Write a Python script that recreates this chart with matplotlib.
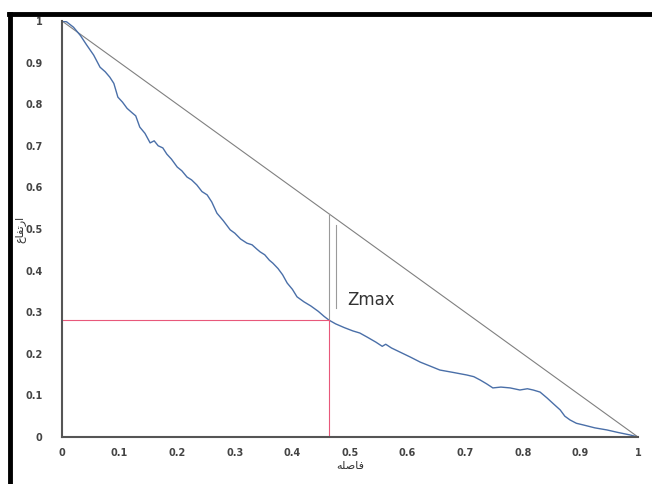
import matplotlib.pyplot as plt
from matplotlib.lines import Line2D

# hypsometric curve
dist = [0, 0.008, 0.02, 0.032, 0.043, 0.055, 0.066, 0.075, 0.083, 0.09, 0.097,
        0.105, 0.113, 0.122, 0.128, 0.135, 0.144, 0.153, 0.16, 0.167, 0.175,
        0.182, 0.19, 0.2, 0.208, 0.217, 0.225, 0.234, 0.243, 0.252, 0.26,
        0.269, 0.28, 0.292, 0.3, 0.31, 0.321, 0.33, 0.338, 0.344, 0.352,
        0.36, 0.366, 0.375, 0.383, 0.391, 0.4, 0.408, 0.42, 0.432, 0.445,
        0.455, 0.4635, 0.475, 0.49, 0.505, 0.517, 0.53, 0.545, 0.556, 0.562,
        0.572, 0.587, 0.605, 0.622, 0.64, 0.656, 0.68, 0.703, 0.715, 0.726,
        0.737, 0.748, 0.762, 0.778, 0.795, 0.808, 0.818, 0.83, 0.842, 0.853,
        0.865, 0.873, 0.882, 0.893, 0.905, 0.925, 0.946, 0.965, 0.986, 1]
elev = [1, 0.998, 0.985, 0.965, 0.942, 0.918, 0.889, 0.878, 0.865, 0.85, 0.817,
        0.805, 0.79, 0.779, 0.772, 0.745, 0.73, 0.707, 0.712, 0.7, 0.695,
        0.68, 0.668, 0.649, 0.64, 0.625, 0.618, 0.606, 0.59, 0.582, 0.565,
        0.538, 0.52, 0.498, 0.49, 0.476, 0.466, 0.462, 0.452, 0.445, 0.438,
        0.425, 0.418, 0.405, 0.39, 0.37, 0.355, 0.337, 0.325, 0.315, 0.302,
        0.29, 0.281, 0.272, 0.263, 0.255, 0.25, 0.24, 0.228, 0.218, 0.223,
        0.214, 0.204, 0.192, 0.18, 0.17, 0.161, 0.155, 0.149, 0.145, 0.137,
        0.128, 0.118, 0.12, 0.118, 0.113, 0.116, 0.113, 0.108, 0.094, 0.08,
        0.065, 0.05, 0.041, 0.033, 0.029, 0.022, 0.017, 0.011, 0.005, 0]

x_zmax = 0.4635
y_zmax = 0.281
ticks = [0, 0.1, 0.2, 0.3, 0.4, 0.5, 0.6, 0.7, 0.8, 0.9, 1]
tick_labels = ['0', '0.1', '0.2', '0.3', '0.4', '0.5', '0.6', '0.7', '0.8', '0.9', '1']

# Persian labels, written in presentation forms since matplotlib does not shape arabic
xlabel = '\uFEEA\uFEE0\uFEBB\uFE8E\uFED3'              # فاصله
ylabel = '\uFEC9\uFE8E\uFED4\uFE97\uFEAD\uFE8D'        # ارتفاع

fig = plt.figure(figsize=(6.52, 4.84), dpi=100)
ax = fig.add_axes([0.0951, 0.0971, 0.8834, 0.8595])

ax.plot([0, 1], [1, 0], color='#808080', lw=0.8)
ax.plot(dist, elev, color='#4a6fa8', lw=1.0)

# Zmax marker
ax.plot([x_zmax, x_zmax], [y_zmax, 1 - x_zmax], color='#9a9a9a', lw=0.8)
ax.plot([x_zmax + 0.012, x_zmax + 0.012], [0.31, 0.51], color='#9a9a9a', lw=0.8)
ax.text(x_zmax + 0.032, 0.33, 'Zmax', fontsize=12, color='#333333', va='center')

# red guide lines
ax.plot([0, x_zmax], [y_zmax, y_zmax], color='#e8587a', lw=0.8)
ax.plot([x_zmax, x_zmax], [0, y_zmax], color='#e8587a', lw=0.8)

ax.set_xlim(0, 1)
ax.set_ylim(0, 1)
ax.set_xticks(ticks)
ax.set_xticklabels(tick_labels, fontsize=7, fontweight='bold', color='#444444')
ax.set_yticks(ticks)
ax.set_yticklabels(tick_labels, fontsize=7, fontweight='bold', color='#444444')
ax.tick_params(length=0, pad=8)
ax.tick_params(axis='y', pad=14)
for s in ['top', 'right']:
    ax.spines[s].set_visible(False)
for s in ['left', 'bottom']:
    ax.spines[s].set_color('#555555')
    ax.spines[s].set_linewidth(1.5)

ax.set_xlabel(xlabel, fontsize=8, color='#333333', labelpad=2)
ax.set_ylabel(ylabel, fontsize=8, color='#333333', labelpad=0)

# black frame on left and top
fig.add_artist(Line2D([0.016, 0.016], [0, 0.972], transform=fig.transFigure, color='black', lw=3.5))
fig.add_artist(Line2D([0.014, 1], [0.972, 0.972], transform=fig.transFigure, color='black', lw=3.5))

fig.savefig('out.png', dpi=100)
